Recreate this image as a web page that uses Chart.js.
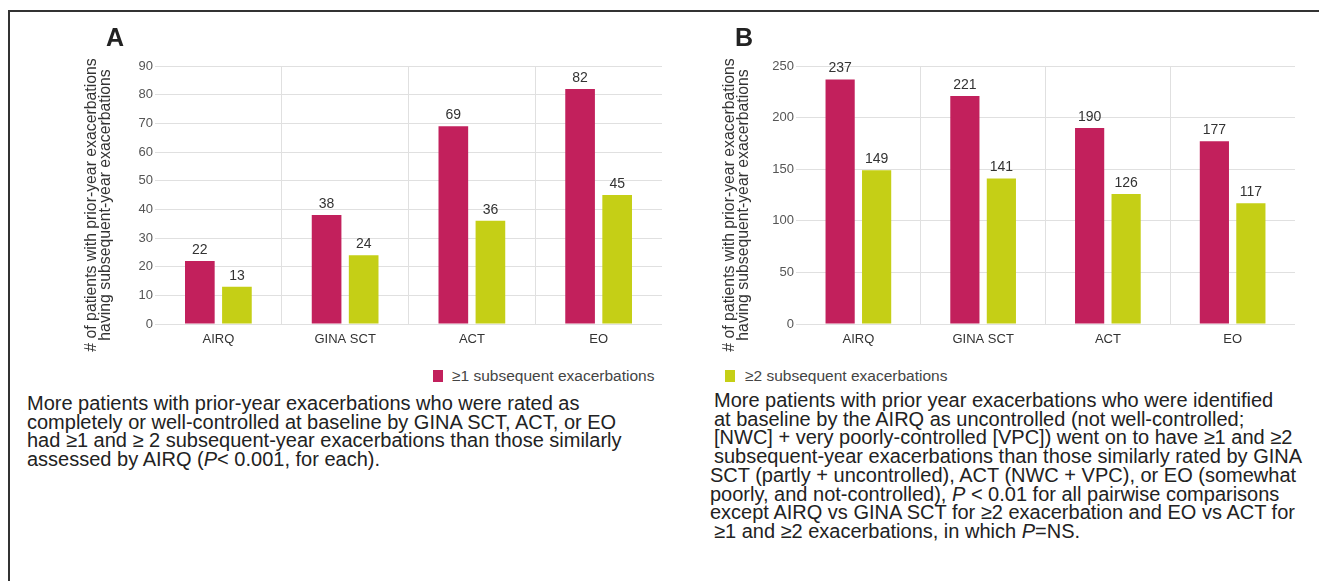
<!DOCTYPE html>
<html>
<head>
<meta charset="utf-8">
<script src="https://cdn.jsdelivr.net/npm/chart.js@4.4.1/dist/chart.umd.min.js"></script>
<style>
  body { margin: 0; width: 1319px; height: 581px; background: #fff; position: relative; overflow: hidden;
         font-family: "Liberation Sans", Arial, sans-serif; color: #222; }
  .frame { position: absolute; left: 8px; top: 10px; right: -4px; bottom: -4px;
           border-top: 2px solid #333; border-left: 2px solid #333; }
  canvas { position: absolute; top: 0; }
  .panel { position: absolute; font-weight: bold; font-size: 25px; line-height: 25px; color: #222; }
  .swatch { position: absolute; width: 10px; height: 12px; }
  .legend { position: absolute; font-size: 15.5px; line-height: 18px; color: #444; white-space: nowrap; }
  .caption { position: absolute; font-size: 20px; line-height: 18.7px; color: #222; white-space: nowrap; }
  .caption .ind { padding-left: 4px; }
</style>
</head>
<body>
<div class="frame"></div>
<canvas id="chartA" width="680" height="360" style="left:0"></canvas>
<canvas id="chartB" width="639" height="360" style="left:680px"></canvas>

<div class="panel" style="left:106px; top:25px">A</div>
<div class="panel" style="left:735px; top:25px">B</div>

<div class="swatch" style="left:433px; top:370px; background:#C2205C"></div>
<div class="legend" style="left:452px; top:367px">≥1 subsequent exacerbations</div>
<div class="swatch" style="left:725px; top:370px; background:#C5CF16"></div>
<div class="legend" style="left:745px; top:367px">≥2 subsequent exacerbations</div>

<div class="caption" style="left:27px; top:394px">
  More patients with prior-year exacerbations who were rated as<br>
  completely or well-controlled at baseline by GINA SCT, ACT, or EO<br>
  had ≥1 and ≥ 2 subsequent-year exacerbations than those similarly<br>
  assessed by AIRQ (<i>P</i>&lt; 0.001, for each).
</div>
<div class="caption" style="left:710px; top:391px">
  <span class="ind">More patients with prior year exacerbations who were identified</span><br>
  <span class="ind">at baseline by the AIRQ as uncontrolled (not well-controlled;</span><br>
  <span class="ind">[NWC] + very poorly-controlled [VPC]) went on to have ≥1 and ≥2</span><br>
  <span class="ind">subsequent-year exacerbations than those similarly rated by GINA</span><br>
  SCT (partly + uncontrolled), ACT (NWC + VPC), or EO (somewhat<br>
  poorly, and not-controlled), <i>P</i> &lt; 0.01 for all pairwise comparisons<br>
  except AIRQ vs GINA SCT for ≥2 exacerbation and EO vs ACT for<br>
  <span class="ind">≥1 and ≥2 exacerbations, in which <i>P</i>=NS.</span>
</div>

<script>
const categories = ['AIRQ', 'GINA SCT', 'ACT', 'EO'];

// Panel A: rated completely / well-controlled
const wellOne = [22, 38, 69, 82];
const wellTwo = [13, 24, 36, 45];

// Panel B: rated uncontrolled
const unOne = [237, 221, 190, 177];
const unTwo = [149, 141, 126, 117];

const seriesNames = ['≥1 subsequent exacerbations', '≥2 subsequent exacerbations'];
const yTitle = ['# of patients with prior-year exacerbations', 'having subsequent-year exacerbations'];

const RED = '#C2205C';
const GREEN = '#C5CF16';
const GRID = '#e0e0e0';
const FONT = '"Liberation Sans", Arial, sans-serif';

Chart.defaults.font.family = FONT;

// numbers above the bars
const valueLabels = {
  id: 'valueLabels',
  afterDatasetsDraw(chart) {
    const { ctx } = chart;
    ctx.save();
    ctx.font = '14px ' + FONT;
    ctx.fillStyle = '#333';
    ctx.textAlign = 'center';
    ctx.textBaseline = 'alphabetic';
    chart.data.datasets.forEach((ds, i) => {
      chart.getDatasetMeta(i).data.forEach((bar, j) => {
        ctx.fillText(ds.data[j], bar.x, bar.y - 7);
      });
    });
    ctx.restore();
  },
};

// two-line rotated axis title, centred a little lower than the plot area
const sideTitle = {
  id: 'sideTitle',
  afterDraw(chart, args, opts) {
    const { ctx } = chart;
    ctx.save();
    ctx.translate(opts.x, opts.y);
    ctx.rotate(-Math.PI / 2);
    ctx.font = '15.8px ' + FONT;
    ctx.fillStyle = '#333';
    ctx.textAlign = 'center';
    ctx.textBaseline = 'middle';
    yTitle.forEach((line, i) => ctx.fillText(line, 0, i * 14));
    ctx.restore();
  },
};

function makeChart(id, one, two, max, step, padLeft, yWidth, padRight, titleX) {
  return new Chart(document.getElementById(id), {
    type: 'bar',
    data: {
      labels: categories,
      datasets: [
        { label: seriesNames[0], data: one, backgroundColor: RED },
        { label: seriesNames[1], data: two, backgroundColor: GREEN },
      ],
    },
    options: {
      responsive: false,
      animation: false,
      layout: { padding: { top: 66, left: padLeft, right: padRight, bottom: 6 } },
      datasets: { bar: { categoryPercentage: 0.585, barPercentage: 0.8 } },
      plugins: {
        legend: { display: false },
        tooltip: { enabled: false },
        sideTitle: { x: titleX, y: 205 },
      },
      scales: {
        x: {
          afterFit: (s) => { s.height = 30; },
          border: { display: false },
          grid: {
            drawTicks: false,
            color: (c) => (c.type === 'tick' && c.index > 0 ? GRID : 'rgba(0,0,0,0)'),
          },
          ticks: { color: '#333', padding: 8, font: { size: 13 } },
        },
        y: {
          min: 0,
          max: max,
          afterFit: (s) => { s.width = yWidth; },
          border: { display: false },
          grid: { drawTicks: false, color: GRID },
          ticks: { stepSize: step, color: '#555', padding: 2, font: { size: 13 } },
        },
      },
    },
    plugins: [valueLabels, sideTitle],
  });
}

makeChart('chartA', wellOne, wellTwo, 90, 10, 85, 70, 18, 92);
makeChart('chartB', unOne, unTwo, 250, 50, 43, 73, 24, 50);
</script>
</body>
</html>
